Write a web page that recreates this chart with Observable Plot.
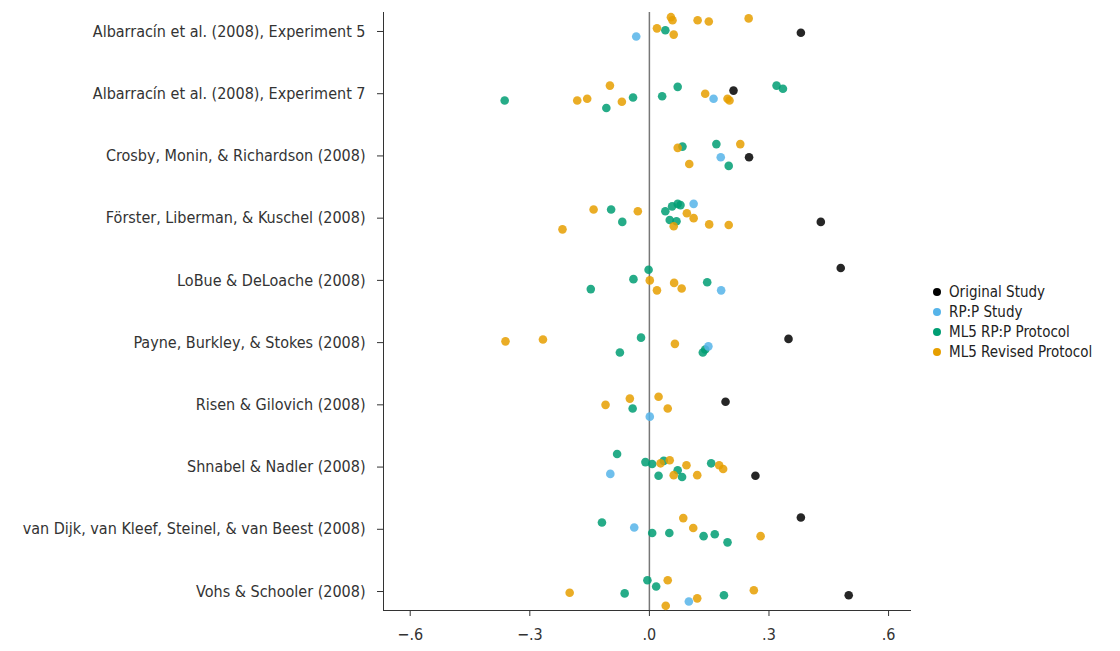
<!DOCTYPE html>
<html>
<head>
<meta charset="utf-8">
<script src="https://cdn.jsdelivr.net/npm/d3@7"></script>
<script src="https://cdn.jsdelivr.net/npm/@observablehq/plot@0.6"></script>
<style>
  html, body { margin: 0; padding: 0; background: #fff; }
  #wrap { position: relative; width: 1120px; height: 651px; }
  #legend { position: absolute; left: 933px; top: 282px; font-family: "Liberation Sans Narrow", "DejaVu Sans Condensed", sans-serif; font-size: 15px; color: #222; }
  #legend .row { display: flex; align-items: center; height: 20px; }
  #legend .dot { width: 8px; height: 8px; border-radius: 50%; margin-right: 8px; }
</style>
</head>
<body>
<div id="wrap"><div id="chart"></div><div id="legend"></div></div>
<script>
const studies = [
  "Albarracín et al. (2008), Experiment 5",
  "Albarracín et al. (2008), Experiment 7",
  "Crosby, Monin, & Richardson (2008)",
  "Förster, Liberman, & Kuschel (2008)",
  "LoBue & DeLoache (2008)",
  "Payne, Burkley, & Stokes (2008)",
  "Risen & Gilovich (2008)",
  "Shnabel & Nadler (2008)",
  "van Dijk, van Kleef, Steinel, & van Beest (2008)",
  "Vohs & Schooler (2008)"
];
const groups = ["Original Study", "RP:P Study", "ML5 RP:P Protocol", "ML5 Revised Protocol"];
const colors = ["#000000", "#56B4E9", "#009E73", "#E69F00"];
const xTicks = [-0.6, -0.3, 0, 0.3, 0.6];

// effect sizes (r) per study
const original    = [0.380, 0.211, 0.250, 0.430, 0.480, 0.349, 0.191, 0.266, 0.380, 0.500];
const originalJit = [0.02, -0.05, 0.02, 0.06, -0.20, -0.06, -0.05, 0.14, -0.19, 0.06];
const rppStudy    = [-0.033, 0.161, 0.179, 0.111, 0.180, 0.148, 0.001, -0.098, -0.038, 0.099];
const rppStudyJit = [0.08, 0.08, 0.02, -0.23, 0.16, 0.06, 0.19, 0.11, -0.03, 0.16];

const ml5Rpp = [
  [0.040],
  [-0.363, -0.108, -0.041, 0.032, 0.071, 0.319, 0.335],
  [0.083, 0.168, 0.199],
  [-0.096, -0.068, 0.040, 0.057, 0.071, 0.078, 0.051, 0.068],
  [-0.147, -0.040, -0.002, 0.145],
  [-0.021, -0.074, 0.134, 0.140],
  [-0.042],
  [-0.081, -0.010, 0.007, 0.036, 0.023, 0.071, 0.082, 0.155],
  [-0.119, 0.007, 0.050, 0.136, 0.164, 0.196],
  [-0.062, -0.005, 0.017, 0.187]
];
const ml5RppJit = [
  [-0.02],
  [0.11, 0.23, 0.06, 0.04, -0.11, -0.13, -0.08],
  [-0.15, -0.19, 0.16],
  [-0.14, 0.06, -0.11, -0.19, -0.23, -0.21, 0.03, 0.05],
  [0.14, -0.02, -0.17, 0.03],
  [-0.08, 0.16, 0.16, 0.11],
  [0.06],
  [-0.21, -0.08, -0.05, -0.10, 0.14, 0.05, 0.16, -0.06],
  [-0.11, 0.06, 0.06, 0.11, 0.08, 0.21],
  [0.03, -0.18, -0.08, 0.06]
];
const ml5Rev = [
  [0.019, 0.054, 0.058, 0.061, 0.121, 0.149, 0.249],
  [-0.181, -0.156, -0.099, -0.069, 0.140, 0.196, 0.201],
  [0.071, 0.100, 0.228],
  [-0.218, -0.140, -0.029, 0.094, 0.111, 0.061, 0.150, 0.199],
  [0.001, 0.019, 0.062, 0.081],
  [-0.361, -0.267, 0.064],
  [-0.110, -0.049, 0.023, 0.046],
  [0.028, 0.051, 0.061, 0.093, 0.120, 0.175, 0.185],
  [0.085, 0.110, 0.279],
  [-0.200, 0.046, 0.041, 0.120, 0.262]
];
const ml5RevJit = [
  [-0.05, -0.23, -0.18, 0.05, -0.18, -0.16, -0.21],
  [0.11, 0.08, -0.13, 0.13, 0.00, 0.08, 0.11],
  [-0.13, 0.13, -0.19],
  [0.18, -0.14, -0.11, -0.08, 0.00, 0.13, 0.10, 0.11],
  [0.00, 0.16, 0.04, 0.13],
  [-0.02, -0.05, 0.02],
  [0.00, -0.10, -0.13, 0.06],
  [-0.06, -0.11, 0.13, -0.03, 0.13, -0.03, 0.03],
  [-0.18, -0.02, 0.11],
  [0.02, -0.18, 0.23, 0.11, -0.02]
];

const rows = [];
ml5Rpp.forEach((vals, i) => vals.forEach((v, k) => rows.push({study: i, value: v, jit: ml5RppJit[i][k], group: groups[2]})));
ml5Rev.forEach((vals, i) => vals.forEach((v, k) => rows.push({study: i, value: v, jit: ml5RevJit[i][k], group: groups[3]})));
rppStudy.forEach((v, i) => rows.push({study: i, value: v, jit: rppStudyJit[i], group: groups[1]}));
original.forEach((v, i) => rows.push({study: i, value: v, jit: originalJit[i], group: groups[0]}));

const font = '"Liberation Sans Narrow", "DejaVu Sans Condensed", sans-serif';
const fmt = d => d3.format(".1f")(d).replace(/^(\u2212?)0\./, "$1.");

const chart = Plot.plot({
  width: 1120,
  height: 651,
  marginLeft: 383,
  marginRight: 210,
  marginTop: 12,
  marginBottom: 41,
  style: {fontFamily: font, fontSize: "16px", color: "#333", background: "#fff"},
  x: {domain: [-0.667, 0.655], ticks: xTicks, tickFormat: fmt, label: null, line: true, tickSize: 6, tickPadding: 12},
  y: {domain: [-0.305, 9.305], reverse: true, ticks: d3.range(studies.length), tickFormat: i => studies[i], label: null, line: true, tickSize: 6, tickPadding: 12},
  color: {domain: groups, range: colors},
  marks: [
    Plot.ruleX([0], {stroke: "#777", strokeWidth: 1.5}),
    Plot.dot(rows, {x: "value", y: d => d.study + d.jit, fill: "group", r: 4.3, fillOpacity: 0.85, stroke: null})
  ]
});
document.getElementById("chart").appendChild(chart);

const legend = document.getElementById("legend");
groups.forEach((g, i) => {
  const row = document.createElement("div");
  row.className = "row";
  const dot = document.createElement("span");
  dot.className = "dot";
  dot.style.background = colors[i];
  const t = document.createElement("span");
  t.textContent = g;
  row.appendChild(dot); row.appendChild(t);
  legend.appendChild(row);
});
</script>
</body>
</html>
